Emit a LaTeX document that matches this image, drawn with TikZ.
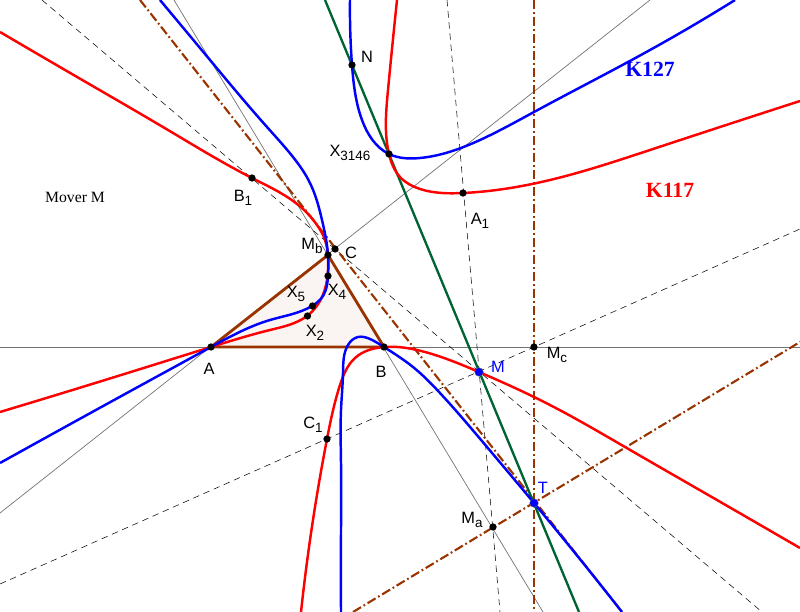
\documentclass[tikz,border=0pt]{standalone}
\usepackage{fontspec}
\setmainfont{Liberation Sans}
\newfontfamily\titlefont{Liberation Serif}
\usepackage{xcolor}
\usetikzlibrary{hobby}
\definecolor{darkbrown}{RGB}{153,51,0}
\definecolor{darkgreen}{RGB}{0,100,50}
\newcommand{\lsub}[1]{\raisebox{-0.45ex}{\fontsize{11.5}{13}\selectfont #1}}
\tikzset{
    pnt/.style={circle, fill, inner sep=2.2pt},
    mpnt/.style={circle, fill=blue, draw=black!60, line width=0.3pt, inner sep=2.6pt},
    lbl/.style={font=\fontsize{14}{16}\selectfont},
    thinline/.style={black!55, line width=0.6pt},
    dashline/.style={black, line width=0.45pt, dash pattern=on 5.5pt off 4pt},
    brownline/.style={darkbrown, line width=1.8pt, dash pattern=on 8pt off 2.5pt on 1.5pt off 2.5pt},
    redcurve/.style={red, line width=2.1pt, use Hobby shortcut},
    bluecurve/.style={blue, line width=2.1pt, use Hobby shortcut},
}
\begin{document}
\begin{tikzpicture}[x=0.03cm, y=-0.03cm]
        \useasboundingbox (0, 0) rectangle (800, 612);
        % Triangle fill
        \fill [darkbrown!5] (211, 347) -- (384, 347) -- (328, 255) -- cycle;
        % Ends of the lines
        \coordinate (h1) at (0, 347);
        \coordinate (h2) at (800, 347);
        \coordinate (ac1) at (0, 513);
        \coordinate (ac2) at (650, 0);
        \coordinate (bc1) at (174, 0);
        \coordinate (bc2) at (543, 612);
        \coordinate (da1) at (447, 0);
        \coordinate (da2) at (500, 612);
        \coordinate (db1) at (42, 0);
        \coordinate (db2) at (762, 612);
        \coordinate (dc1) at (0, 584);
        \coordinate (dc2) at (800, 229);
        \coordinate (ba1) at (534, 0);
        \coordinate (ba2) at (534, 612);
        \coordinate (bb1) at (353, 612);
        \coordinate (bb2) at (800, 342);
        \coordinate (bc3) at (140, 0);
        \coordinate (bc4) at (622, 612);
        \coordinate (g1) at (325, 0);
        \coordinate (g2) at (579, 612);
        % Thin lines
        \draw [thinline] (h1) -- (h2);
        \draw [thinline] (ac1) -- (ac2);
        \draw [thinline] (bc1) -- (bc2);
        % Dashed lines
        \draw [dashline] (da1) -- (da2);
        \draw [dashline] (db1) -- (db2);
        \draw [dashline] (dc1) -- (dc2);
        % Brown lines
        \draw [brownline] (ba1) -- (ba2);
        \draw [brownline] (bb1) -- (bb2);
        \draw [brownline] (bc3) -- (bc4);
        % Green line
        \draw [darkgreen, line width=2pt] (g1) -- (g2);
        % Triangle
        \draw [darkbrown, line width=2.4pt, line join=round] (211, 347) -- (384, 347) -- (328, 255) -- cycle;
        % K117
        \draw [redcurve] (0, 32) .. (84, 81) .. (168, 130) .. (252, 178) .. (303, 209) .. (317, 225) .. (325, 240) .. (328, 258) .. (327, 280) .. (320, 301) .. (307, 316) .. (270, 330) .. (211, 347) .. (105, 380) .. (0, 412);
        \draw [redcurve] (397, 0) .. (388, 90) .. (389, 154) .. (400, 177) .. (420, 189) .. (463, 193) .. (550, 180) .. (650, 150) .. (800, 101);
        \draw [redcurve] (301, 612) .. (327, 439) .. (340, 385) .. (355, 358) .. (384, 347) .. (425, 352) .. (479, 372) .. (550, 405) .. (625, 447) .. (710, 496) .. (800, 548);
        % K127
        \draw [bluecurve] (160, 0) .. (210, 60) .. (267, 127) .. (293, 157) .. (310, 183) .. (322, 220) .. (328, 255) .. (328, 276) .. (323, 296) .. (312, 306) .. (270, 320) .. (211, 347) .. (105, 405) .. (0, 463);
        \draw [bluecurve] (350, 0) .. (352, 65) .. (362, 120) .. (389, 154) .. (420, 158) .. (480, 140) .. (534, 112) .. (650, 50) .. (735, 0);
        \draw [bluecurve] (341, 612) .. (341, 530) .. (341, 463) .. (341, 410) .. (343, 373) .. (348, 345) .. (358, 337) .. (370, 339) .. (384, 347) .. (413, 367) .. (440, 393) .. (487, 447) .. (534, 503) .. (622, 612);
        % Points
        \node [pnt] (ptA) at (211, 347) {};
        \node [pnt] (ptB) at (384, 347) {};
        \node [pnt] (ptC) at (335, 249) {};
        \node [pnt] (ptMb) at (328, 255) {};
        \node [pnt] (ptXf) at (328, 276) {};
        \node [pnt] (ptXv) at (312.5, 306) {};
        \node [pnt] (ptXt) at (307.5, 316) {};
        \node [pnt] (ptN) at (352, 65) {};
        \node [pnt] (ptX) at (389, 154) {};
        \node [pnt] (ptAo) at (463, 193) {};
        \node [pnt] (ptBo) at (252, 178) {};
        \node [pnt] (ptCo) at (327, 439) {};
        \node [pnt] (ptMa) at (493, 527) {};
        \node [pnt] (ptMc) at (534, 347) {};
        \node [mpnt] (ptM) at (479, 372) {};
        \node [mpnt] (ptT) at (534, 503) {};
        % Labels
        \node [lbl] (lA) at (209, 369) {A};
        \node [lbl] (lB) at (381, 372) {B};
        \node [lbl] (lC) at (351, 253) {C};
        \node [lbl] (lMb) at (312, 246) {M\lsub{b}};
        \node [lbl] (lXf) at (337, 292) {X\lsub{4}};
        \node [lbl] (lXv) at (296, 294) {X\lsub{5}};
        \node [lbl] (lXt) at (315, 333) {X\lsub{2}};
        \node [lbl] (lN) at (367, 57) {N};
        \node [lbl] (lX) at (350, 153) {X\lsub{3146}};
        \node [lbl] (lAo) at (480, 221) {A\lsub{1}};
        \node [lbl] (lBo) at (243, 198) {B\lsub{1}};
        \node [lbl] (lCo) at (313, 425) {C\lsub{1}};
        \node [lbl] (lMa) at (472, 520) {M\lsub{a}};
        \node [lbl] (lMc) at (557, 355) {M\lsub{c}};
        \node [lbl, text=blue] (lM) at (498, 367) {M};
        \node [lbl, text=blue] (lT) at (543, 488) {T};
        % Titles
        \node [text=blue, font=\titlefont\bfseries\fontsize{18.5}{20}\selectfont] (kb) at (650, 69) {K127};
        \node [text=red, font=\titlefont\bfseries\fontsize{18.5}{20}\selectfont] (kr) at (670, 190) {K117};
        \node [font=\titlefont\fontsize{13.4}{15}\selectfont] (mv) at (75, 197) {Mover M};
    \end{tikzpicture}
\end{document}
